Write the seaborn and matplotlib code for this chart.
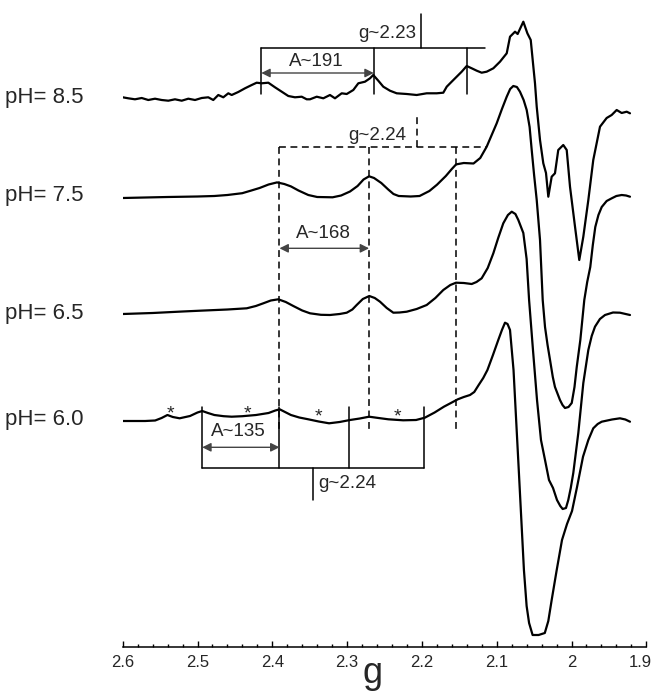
import numpy as np
import pandas as pd
import seaborn as sns
import matplotlib
matplotlib.use("Agg")
import matplotlib.pyplot as plt
import matplotlib.transforms as mtransforms
from matplotlib.ticker import MultipleLocator, FixedLocator, FixedFormatter

# ---------------- data (g-factor vs. relative intensity) ----------------
g_85 = [2.600, 2.5925, 2.5836, 2.5746, 2.5658, 2.5568, 2.5479, 2.5390, 2.5301, 2.5211,
        2.5123, 2.5033, 2.4944, 2.4856, 2.4789, 2.4722, 2.4655, 2.4588, 2.4543, 2.4455,
        2.4365, 2.4275, 2.4209, 2.4142, 2.4053, 2.3964, 2.3874, 2.3786, 2.3697, 2.3607,
        2.3540, 2.3496, 2.3406, 2.3318, 2.3229, 2.3162, 2.3072, 2.3005, 2.2917, 2.2850,
        2.2761, 2.2694, 2.2650, 2.2583, 2.2516, 2.2427, 2.2337, 2.2203, 2.2070, 2.1936,
        2.1802, 2.1714, 2.1668, 2.1602, 2.1535, 2.1468, 2.1401, 2.1334, 2.1267, 2.1201,
        2.1134, 2.1045, 2.0956,
        2.0866, 2.0822, 2.0755, 2.0720, 2.0644, 2.0590, 2.0545, 2.0510, 2.0488, 2.0465,
        2.0421, 2.0377, 2.0341, 2.0310, 2.0265, 2.0221, 2.0177, 2.0110, 2.0064, 2.0020,
        1.9953, 1.9896, 1.9842, 1.9775, 1.9709, 1.9619, 1.9530, 1.9463, 1.9396, 1.9329,
        1.9262, 1.9218]
i_85 = [1.7, 0.7, -0.3, 1, -1, 0.3, -1, -1.7, -0.3, -1.7,
        0.3, -1, 1, 1.7, -1, 4, 1.7, 5.7, 4, 7,
        10.7, 14, 16.3, 15.7, 16.3, 11.7, 7.3, 3, 1.7, 2.3,
        -0.3, -0.3, 2.3, 0.7, 4, 0.7, 5.7, 5, 9, 15.7,
        17.3, 20.7, 24, 18.3, 12.3, 8.3, 5.7, 5, 4, 5.7,
        5.7, 6.3, 12.3, 17.3, 22.3, 27.3, 33, 30.7, 28.3, 26.3,
        27.3, 30.7, 37.3,
        45.7, 62.3, 67.3, 65, 77.3, 65.7, 59, 32.3, 15.7, -7.7,
        -41, -64.3, -74, -97.7, -77.7, -74.3, -51, -46, -51, -87.7,
        -127.7, -161, -137.7, -101, -61, -27.7, -19, -16, -11, -14,
        -12.7, -14.3]

g_75 = [2.600, 2.540, 2.500, 2.4775, 2.4600, 2.4402, 2.4280, 2.4170, 2.4050, 2.3937,
        2.3840, 2.3751, 2.3650, 2.3519, 2.3400, 2.3194, 2.3080, 2.2961, 2.2860, 2.2780,
        2.2706, 2.2640, 2.2543, 2.2450, 2.2380, 2.2310, 2.2150, 2.2031, 2.1900, 2.1798,
        2.1680, 2.1600, 2.1543, 2.1440, 2.1310, 2.1220, 2.1134, 2.1000, 2.0930, 2.0866,
        2.0820, 2.0778, 2.0730, 2.0689, 2.0640, 2.0599, 2.0560, 2.0532, 2.0500, 2.0465,
        2.0421, 2.0385, 2.0354, 2.0320, 2.0287, 2.0250, 2.0221, 2.0154, 2.0120, 2.0087,
        2.0040, 1.9997, 1.9960, 1.9930, 1.9882, 1.9829, 1.9790, 1.9749, 1.9715, 1.9682,
        1.9640, 1.9596, 1.9530, 1.9462, 1.9400, 1.9329, 1.9270, 1.9218]
i_75 = [-1, 0, 0.5, 1, 2, 3.8, 6.5, 9, 12.5, 14.6,
        13, 10.6, 6.5, 2, 0, -0.3, 1.5, 5.5, 11, 17.5,
        20.7, 19, 14, 7.5, 3, 1, 0.5, 1, 6, 12.3,
        21, 28, 32.6, 34, 33.5, 39, 50.3, 73.7, 88, 100.3,
        108, 111, 110, 105.3, 97, 87, 70, 47, 22, -3,
        -43, -103, -130, -148, -163, -180, -190, -203, -208, -211,
        -210, -206, -190, -170, -143, -103, -85, -70, -48, -30,
        -18, -10, -4, -1.3, 1, 2, 1.5, 0.3]

g_65 = [2.600, 2.560, 2.520, 2.4967, 2.4600, 2.4342, 2.4220, 2.4120, 2.4020, 2.3920,
        2.3820, 2.3719, 2.3600, 2.3496, 2.3350, 2.3229, 2.3100, 2.3005, 2.2930, 2.2872,
        2.2790, 2.2703, 2.2630, 2.2560, 2.2470, 2.2382, 2.2300, 2.2203, 2.2070, 2.1936,
        2.1820, 2.1714, 2.1620, 2.1544, 2.1440, 2.1334, 2.1270, 2.1201, 2.1120, 2.1045,
        2.0980, 2.0912, 2.0850, 2.0799, 2.0750, 2.0711, 2.0644, 2.0600, 2.0567, 2.0515,
        2.0461, 2.0408, 2.0354, 2.0301, 2.0247, 2.0194, 2.0150, 2.0118, 2.0074, 2.0043,
        2.0010, 1.9976, 1.9909, 1.9842, 1.9775, 1.9730, 1.9686, 1.9620, 1.9552, 1.9445,
        1.9352, 1.9218]
i_65 = [0, 1, 2.5, 3.3, 4.5, 5.7, 8, 10.7, 13.5, 14.7,
        12, 8, 3.5, 0.7, -0.8, -1, 0, 1.3, 4.5, 9,
        15, 18, 16, 12.3, 6, 1.3, 1.5, 2.3, 5, 9,
        16, 24, 29, 31.3, 31, 30, 32, 35.7, 46, 60.7,
        76, 90.7, 99, 102.3, 100, 94, 81, 55, 14, -36,
        -86, -126, -146, -166, -174, -186, -192, -195, -194, -186,
        -174, -159, -119, -69, -36, -22, -12.7, -5, -1, 1.5,
        1.3, -1]

g_60 = [2.600, 2.5700, 2.5566, 2.5480, 2.5402, 2.5330, 2.5239, 2.5100, 2.5000, 2.4937,
        2.4860, 2.4775, 2.4650, 2.4543, 2.4400, 2.4217, 2.4050, 2.3960, 2.3901, 2.3830,
        2.3751, 2.3640, 2.3519, 2.3380, 2.3241, 2.3100, 2.2961, 2.2830, 2.2706, 2.2580,
        2.2449, 2.2250, 2.2078, 2.1961, 2.1830, 2.1706, 2.1600, 2.1520, 2.1440, 2.1357,
        2.1300, 2.1241, 2.1180, 2.1124, 2.1050, 2.0979, 2.0930, 2.0889, 2.0855, 2.0822,
        2.0775, 2.0705, 2.0636, 2.0600, 2.0567, 2.0520, 2.0440, 2.0357, 2.0310, 2.0265,
        2.0200, 2.0127, 2.0060, 1.9993, 1.9926, 1.9846, 1.9775, 1.9709, 1.9650, 1.9596,
        1.9459, 1.9352, 1.9280, 1.9218]
i_60 = [0, 0, 0.5, 3, 6, 4, 2.7, 5, 8.5, 10,
        8, 6, 4.8, 4.3, 4.8, 6, 8, 10.5, 11.7, 9,
        6, 3.5, 1.7, -0.5, -2.3, -1, 1, 2.5, 4.3, 3,
        1.7, 0.7, 1, 3.3, 8.5, 14.3, 18.5, 21.7, 24, 26,
        29, 36, 43, 51, 66, 81, 91, 98.3, 97, 91,
        51, -49, -149, -185, -202, -214, -214, -212, -200, -179,
        -150, -119, -103, -90, -66, -35.7, -19, -7.3, -3, -0.7,
        1.5, 2.7, 1.5, -0.7]

ph_labels = ["pH= 8.5", "pH= 7.5", "pH= 6.5", "pH= 6.0"]
offsets = [548, 450, 333, 226]

# hyperfine pattern annotations (g positions)
lines_85 = [2.4147, 2.2644, 2.1394]
center_85 = 2.2018
right_end_85 = 2.1163
lines_75 = [2.3904, 2.2706, 2.1543]
center_75 = 2.2064
right_end_75 = 2.1147
lines_60 = [2.4937, 2.3904, 2.2980, 2.1970]
center_60 = 2.3460
star_g = [2.5356, 2.4333, 2.3389, 2.2333]

tick_values = [2.6, 2.5, 2.4, 2.3, 2.2, 2.1, 2.0, 1.9]
tick_labels = ["2.6", "2.5", "2.4", "2.3", "2.2", "2.1", "2", "1.9"]

# ---------------- figure ----------------
sns.set_theme(style="white")
plt.rcParams["font.family"] = ["Liberation Sans", "DejaVu Sans"]

W, H = 655, 691
fig = plt.figure(figsize=(W / 100, H / 100), dpi=100)
ax = fig.add_axes([122.7 / W, 44 / H, 523.6 / W, 647 / H])
ax.set_xlim(2.6, 1.9)
ax.set_ylim(0, 647)

frames = []
for name, gs, ii, off in [("8.5", g_85, i_85, offsets[0]), ("7.5", g_75, i_75, offsets[1]),
                          ("6.5", g_65, i_65, offsets[2]), ("6.0", g_60, i_60, offsets[3])]:
    frames.append(pd.DataFrame({"g": gs, "y": np.array(ii) + off, "pH": name}))
df = pd.concat(frames, ignore_index=True)
for name in ["8.5", "7.5", "6.5", "6.0"]:
    sub = df[df.pH == name]
    sns.lineplot(data=sub, x="g", y="y", sort=False, estimator=None, color="black",
                 lw=1.6, ax=ax, legend=False)
for ln in ax.lines:
    ln.set_solid_joinstyle("round")

solid = dict(color="black", lw=1.1)
dash = dict(color="black", lw=1.1, linestyle=(0, (4.5, 3)))
afs = 13.5
arrow_kw = dict(arrowstyle="<|-|>", color="#444444", lw=1.0,
                mutation_scale=13, shrinkA=0, shrinkB=0)

# pH 8.5 pattern
ax.plot([lines_85[0], right_end_85], [599.5, 599.5], **solid)
for gv in lines_85:
    ax.plot([gv, gv], [599.5, 553], **solid)
ax.plot([center_85, center_85], [599.5, 633.5], **solid)
ax.text(center_85 + 0.006, 613, "g~2.23", ha="right", va="center", fontsize=afs)
ax.text(2.3416, 585, "A~191", ha="center", va="center", fontsize=afs)
ax.annotate("", xy=(lines_85[0], 574), xytext=(lines_85[1], 574), arrowprops=arrow_kw)

# pH 7.5 / 6.5 pattern (dashed)
ax.plot([lines_75[0], right_end_75], [500, 500], **dash)
for gv in lines_75:
    ax.plot([gv, gv], [500, 217], **dash)
ax.plot([center_75, center_75], [500, 532], **dash)
ax.text(center_75 + 0.015, 511.5, "g~2.24", ha="right", va="center", fontsize=afs)
ax.text(2.3322, 413.7, "A~168", ha="center", va="center", fontsize=afs)
ax.annotate("", xy=(lines_75[0], 398.7), xytext=(lines_75[1], 398.7), arrowprops=arrow_kw)

# pH 6.0 pattern
ax.plot([lines_60[0], lines_60[-1]], [179.5, 179.5], **solid)
for gv in lines_60:
    ax.plot([gv, gv], [179.5, 240], **solid)
ax.plot([center_60, center_60], [179.5, 147], **solid)
ax.text(center_60 - 0.008, 163.7, "g~2.24", ha="left", va="center", fontsize=afs)
ax.text(2.4449, 215.3, "A~135", ha="center", va="center", fontsize=afs)
ax.annotate("", xy=(lines_60[0], 199.7), xytext=(lines_60[1], 199.7), arrowprops=arrow_kw)
for k, gv in enumerate(star_g):
    ax.text(gv, 229 if k < 2 else 225.5, "*", ha="center", va="baseline", fontsize=14)

# pH labels
for lab, off in zip(ph_labels, offsets):
    ax.text(2.7574, off + 1, lab, ha="left", va="center", fontsize=16, clip_on=False)

# axis styling
for s in ["left", "right", "top"]:
    ax.spines[s].set_visible(False)
ax.spines["bottom"].set_linewidth(1.1)
ax.spines["bottom"].set_color("black")
ax.set_yticks([])
ax.set_ylabel("")
ax.set_xlabel("")
ax.xaxis.set_major_locator(FixedLocator(tick_values))
ax.xaxis.set_major_formatter(FixedFormatter(tick_labels))
ax.xaxis.set_minor_locator(MultipleLocator(0.02))
ax.tick_params(axis="x", which="major", direction="in", length=4.3, width=1.0,
               color="black", labelsize=12, pad=6, bottom=True)
ax.tick_params(axis="x", which="minor", direction="in", length=2.2, width=1.0,
               color="black", bottom=True)
fig.canvas.draw()
last = ax.get_xticklabels()[-1]
last.set_transform(last.get_transform() +
                   mtransforms.ScaledTranslation(-6 / 100, 0, fig.dpi_scale_trans))
fig.text(372.5 / W, (H - 683) / H, "g", ha="center", va="baseline", fontsize=26)

fig.savefig("out.png", dpi=100)
